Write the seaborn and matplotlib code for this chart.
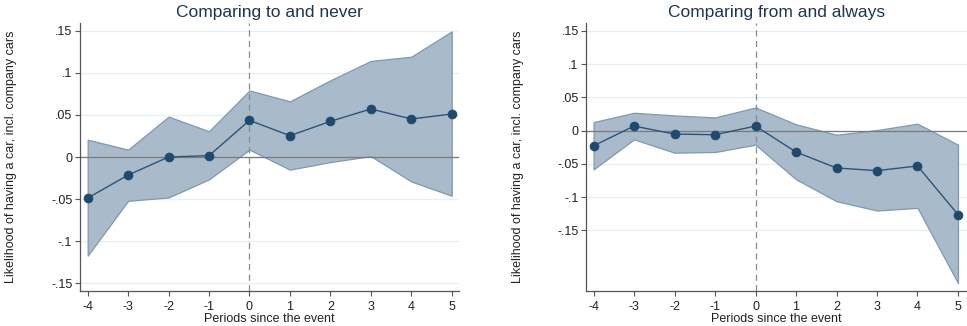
import numpy as np
import pandas as pd
import matplotlib
matplotlib.use("Agg")
import matplotlib.pyplot as plt
import seaborn as sns

periods = [-4, -3, -2, -1, 0, 1, 2, 3, 4, 5]

# Panel 1: Comparing to and never
est_to = [-0.0487, -0.0214, 0.0000, 0.0016, 0.0435, 0.0253, 0.0423, 0.0570, 0.0451, 0.0510]
hi_to = [0.0206, 0.0087, 0.0479, 0.0305, 0.0790, 0.0660, 0.0910, 0.1140, 0.1190, 0.1490]
lo_to = [-0.1170, -0.0520, -0.0480, -0.0265, 0.0087, -0.0150, -0.0060, 0.0010, -0.0290, -0.0460]

# Panel 2: Comparing from and always
est_from = [-0.0226, 0.0070, -0.0050, -0.0060, 0.0070, -0.0320, -0.0560, -0.0600, -0.0530, -0.1260]
hi_from = [0.0130, 0.0270, 0.0230, 0.0200, 0.0350, 0.0096, -0.0060, 0.0010, 0.0106, -0.0210]
lo_from = [-0.0580, -0.0130, -0.0330, -0.0320, -0.0210, -0.0730, -0.1060, -0.1200, -0.1160, -0.2290]

titles = ["Comparing to and never", "Comparing from and always"]
ytick_vals = [-0.15, -0.1, -0.05, 0, 0.05, 0.1, 0.15]
ytick_labels = ["-.15", "-.1", "-.05", "0", ".05", ".1", ".15"]
xlabel = "Periods since the event"
ylabel = "Likelihood of having a car, incl. company cars"

sns.set_theme(style="white")
plt.rcParams['font.family'] = ['Liberation Sans', 'DejaVu Sans']

fig = plt.figure(figsize=(9.67, 3.26), dpi=100)
ax1 = fig.add_axes([80/967, 35/326, 379/967, 268/326])
ax2 = fig.add_axes([586.3/967, 35/326, 381/967, 268/326])

fill_c = "#a9bbcb"
edge_c = "#7f98b0"
line_c = "#2c5479"
mark_c = "#1f4a6e"
grid_c = "#e6eff1"
text_c = "#222222"
title_c = "#1e3550"

panels = [
    (ax1, est_to, hi_to, lo_to, (-0.159, 0.159), (-4.19, 5.18), -0.166),
    (ax2, est_from, hi_from, lo_from, (-0.241, 0.162), (-4.18, 5.23), -0.163),
]

for i, (ax, est, hi, lo, ylim, xlim, lx) in enumerate(panels):
    for v in ytick_vals:
        ax.axhline(v, color=grid_c, lw=0.9, zorder=0)
    ax.fill_between(periods, lo, hi, facecolor=fill_c, edgecolor=edge_c, lw=0.9, zorder=1)
    ax.axhline(0, color="#7a7a7a", lw=0.9, zorder=2)
    ax.axvline(0, color="#8a8a8a", lw=0.9, ls=(0, (5, 3.5)), zorder=2)
    df = pd.DataFrame({"period": periods, "est": est})
    sns.lineplot(data=df, x="period", y="est", ax=ax, color=line_c, lw=1.0,
                 marker="o", markersize=6.2, markerfacecolor=mark_c,
                 markeredgecolor=mark_c, zorder=3)
    ax.set_xlim(*xlim)
    ax.set_ylim(*ylim)
    ax.set_xticks(periods)
    ax.set_xticklabels([str(p) for p in periods])
    ax.set_yticks(ytick_vals)
    ax.set_yticklabels(ytick_labels)
    ax.tick_params(axis="both", which="both", direction="out", length=3.5, width=0.8,
                   color="#555555", labelsize=9, labelcolor=text_c, pad=2, left=True, bottom=True)
    ax.tick_params(axis="x", pad=3.5)
    for s in ["top", "right"]:
        ax.spines[s].set_visible(False)
    for s in ["left", "bottom"]:
        ax.spines[s].set_color("#555555")
        ax.spines[s].set_linewidth(0.9)
    ax.set_xlabel(xlabel, fontsize=9, color=text_c, labelpad=0)
    ax.set_ylabel(ylabel, fontsize=9, color=text_c)
    ax.yaxis.set_label_coords(lx, 0.5)
    ax.set_title(titles[i], fontsize=12.5, color=title_c, pad=4)
    ax.set_facecolor("white")

fig.savefig("out.png", dpi=100)
